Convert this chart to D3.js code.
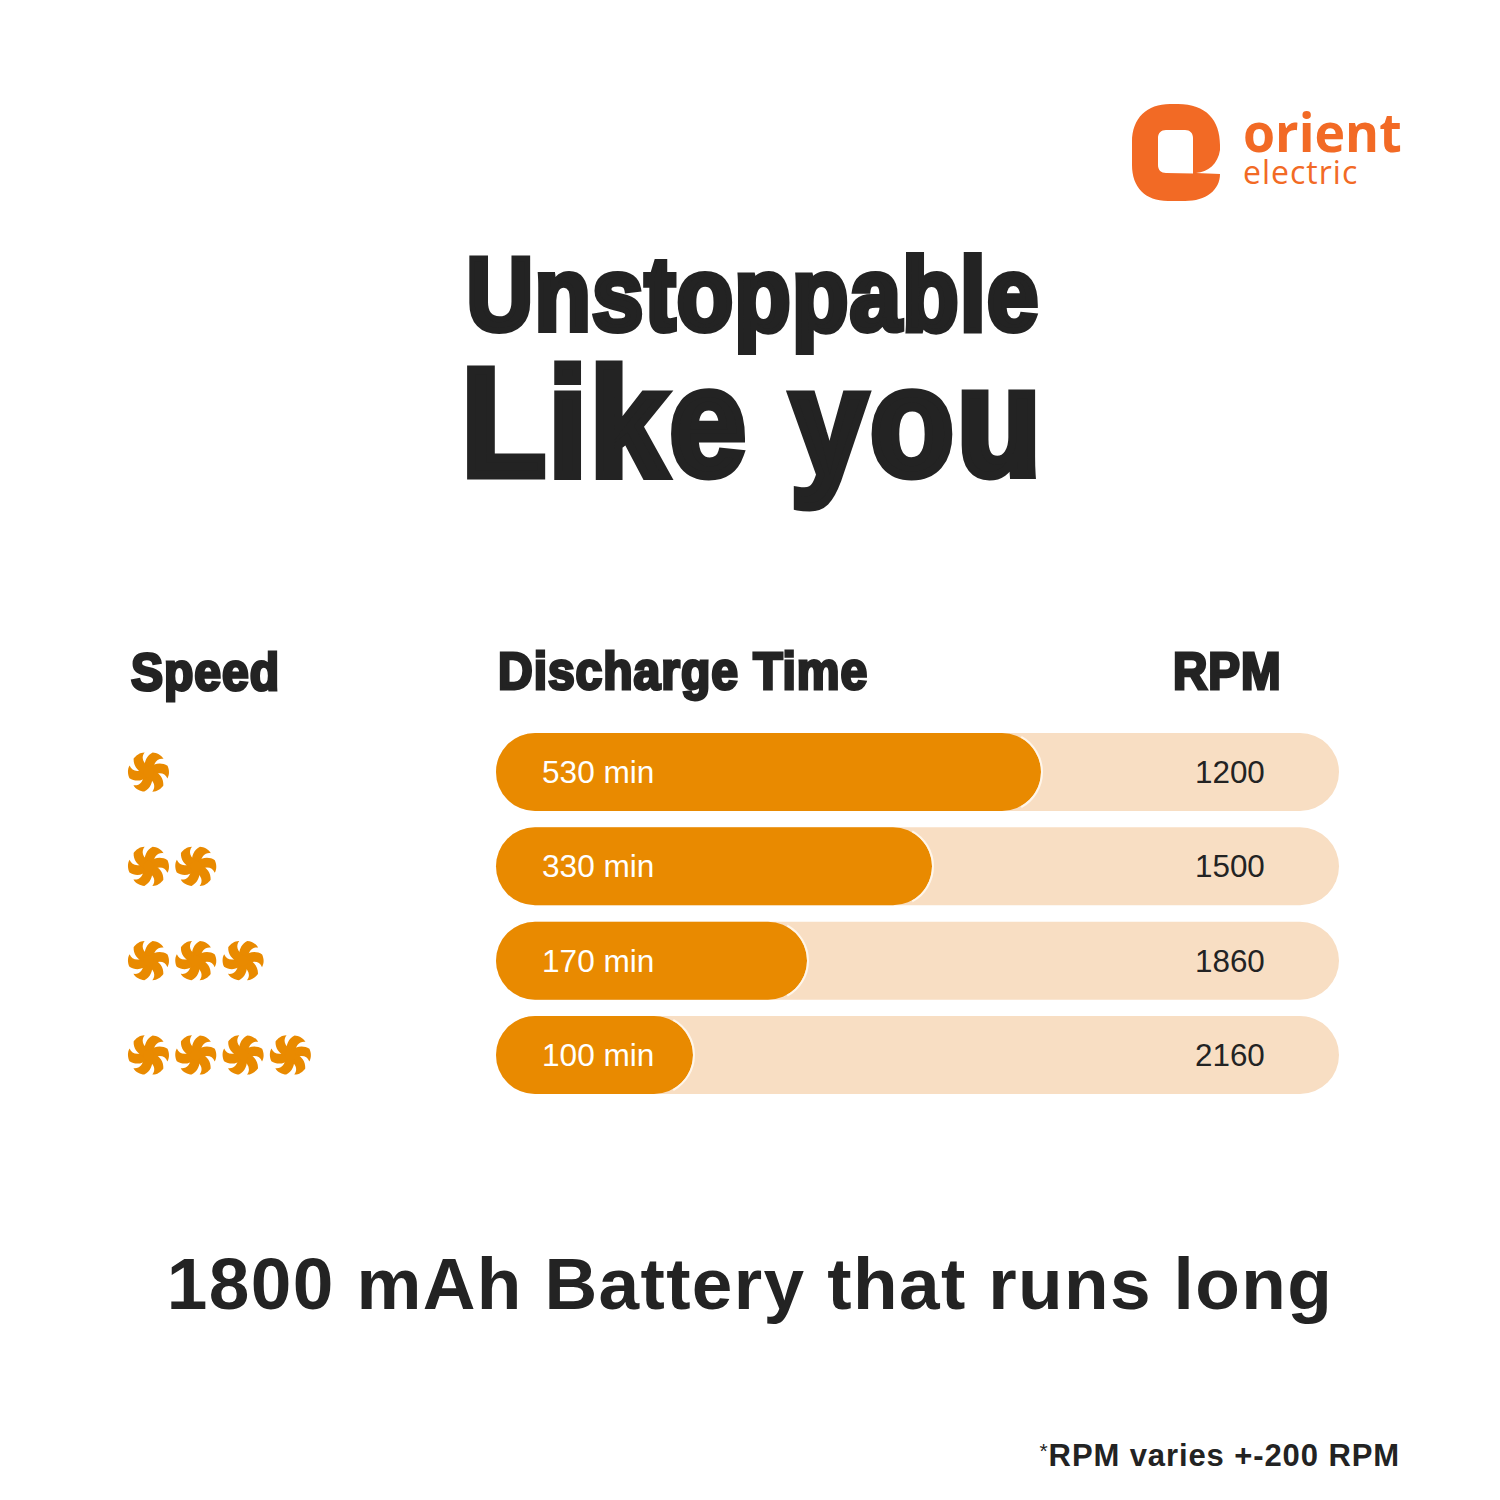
<!DOCTYPE html>
<html>
<head>
<meta charset="utf-8">
<script src="https://cdn.jsdelivr.net/npm/d3@7/dist/d3.min.js"></script>
<style>
html,body{margin:0;padding:0;background:#fff}
svg{display:block}
text{font-family:"Liberation Sans",sans-serif}
</style>
</head>
<body>
<div id="chart"></div>
<script>
// Fan speed table: one row per speed setting
const speedLevels = [1, 2, 3, 4];
const dischargeMinutes = [530, 330, 170, 100];
const rpmValues = [1200, 1500, 1860, 2160];
const columnHeads = ["Speed", "Discharge Time", "RPM"];
const titleLines = ["Unstoppable", "Like you"];
const tagline = "1800 mAh Battery that runs long";
const footnote = "RPM varies +-200 RPM";
// Bar lengths follow an uneven, non-proportional ruler
const minuteStops = [100, 170, 330, 530];
const lengthStops = [197, 311, 436, 545];

const ORANGE = "#E98A00", TRACK = "#F8DEC3", INK = "#232323", BRAND = "#F26A25";

const svg = d3.select("#chart").append("svg")
  .attr("width", 1500).attr("height", 1500).attr("viewBox", "0 0 1500 1500");
svg.append("rect").attr("width", 1500).attr("height", 1500).attr("fill", "#fff");

const rowScale = d3.scaleBand().domain(speedLevels).range([733, 1094]).paddingInner(0.173).paddingOuter(0);
const lengthScale = d3.scaleLinear().domain(minuteStops).range(lengthStops);
const barLeft = 496, trackWidth = 843, h = rowScale.bandwidth();
const rowMid = lv => rowScale(lv) + h / 2;

// Squeezed heavy headline text: a horizontal scale plus an outline for extra weight
function heavyText(x, y, size, sx, weight, str, anchor, spacing) {
  return svg.append("text")
    .attr("transform", `translate(${x},${y}) scale(${sx},1)`)
    .attr("text-anchor", anchor || "start")
    .attr("font-size", size).attr("font-weight", 700)
    .attr("letter-spacing", spacing || 0)
    .attr("fill", INK).attr("stroke", INK).attr("stroke-width", weight)
    .attr("stroke-linejoin", "miter")
    .text(str);
}

heavyText(753, 330, 103, 0.895, 6, titleLines[0], "middle", 1.5);
heavyText(753, 475, 153, 0.892, 9, titleLines[1], "middle", 4);

heavyText(131, 690, 52, 0.925, 3, columnHeads[0], "start", 1);
heavyText(498, 689, 52, 0.925, 3, columnHeads[1], "start", 1);
heavyText(1173, 689, 52, 0.915, 3, columnHeads[2], "start", 1);

// Table rows
const rows = svg.append("g").selectAll("g").data(speedLevels).join("g");

rows.append("rect")
  .attr("x", barLeft).attr("y", d => rowScale(d))
  .attr("width", trackWidth).attr("height", h)
  .attr("rx", h / 2).attr("fill", TRACK);

rows.append("rect")
  .attr("x", barLeft).attr("y", d => rowScale(d))
  .attr("width", (d, i) => lengthScale(dischargeMinutes[i])).attr("height", h)
  .attr("rx", h / 2).attr("fill", ORANGE);

// Thin light rim along the rounded end of each bar
const rimArc = d3.arc().innerRadius(h / 2).outerRadius(h / 2 + 2)
  .startAngle(Math.PI * 0.16).endAngle(Math.PI * 0.84);
rows.append("path")
  .attr("transform", (d, i) =>
    `translate(${barLeft + lengthScale(dischargeMinutes[i]) - h / 2},${rowMid(d)})`)
  .attr("d", rimArc())
  .attr("fill", "#FFF6EA");

rows.append("text")
  .attr("x", 542).attr("y", d => rowMid(d) + 11)
  .attr("font-size", 31.6).attr("fill", "#fff")
  .text((d, i) => dischargeMinutes[i] + " min");

rows.append("text")
  .attr("x", 1195).attr("y", d => rowMid(d) + 11)
  .attr("font-size", 31.4).attr("fill", INK)
  .text((d, i) => rpmValues[i]);

// Fan glyph: six swept blades around a hub
const bladeAngles = d3.range(0, 360, 60);
function addFan(sel, cx, cy) {
  const g = sel.append("g").attr("transform", `translate(${cx},${cy})`);
  g.selectAll("path").data(bladeAngles).join("path")
    .attr("transform", a => `rotate(${a + 12})`)
    .attr("d", "M-4,-2 C-7,-9 -5,-16 0,-20 C4,-20.5 9,-19.5 12,-16 C6,-15.5 3,-11 4,-2 Z")
    .attr("fill", ORANGE);
  g.append("circle").attr("r", 5.5).attr("fill", ORANGE);
}
const fanStep = 47.3;
speedLevels.forEach(lv => {
  const fans = svg.append("g");
  d3.range(lv).forEach(k => addFan(fans, 148.5 + k * fanStep, rowMid(lv)));
});

// Closing lines
svg.append("text").attr("x", 750).attr("y", 1309).attr("text-anchor", "middle")
  .attr("font-size", 73).attr("font-weight", 700).attr("fill", INK)
  .attr("letter-spacing", 1.38).text(tagline);

const note = svg.append("text").attr("x", 1400).attr("y", 1466).attr("text-anchor", "end")
  .attr("font-size", 31).attr("font-weight", 700).attr("fill", INK)
  .attr("letter-spacing", 0.9);
note.append("tspan").attr("font-size", 21).attr("font-weight", 400).attr("dy", -8).text("*");
note.append("tspan").attr("dy", 8).text(footnote);

// Brand mark: rounded square ring with a wedge cut on the right
const brand = svg.append("g");
brand.append("path")
  .attr("fill", BRAND).attr("fill-rule", "evenodd")
  .attr("d", "M1178,104 C1206,104 1220,120 1220,145 L1220,150 C1218,164 1208,172 1196,173 L1220,174 C1220,190 1206,201 1185,201 L1168,201 C1145,201 1132,187 1132,165 L1132,142 C1132,118 1147,104 1170,104 Z M1166,130 C1161,130 1158,133 1158,138 L1158,165 C1158,170 1161,173 1166,173 L1193,173.5 L1193,138 C1193,133 1190,130 1185,130 Z");
brand.append("text")
  .attr("transform", "translate(1243,152) scale(0.96,1)")
  .attr("font-size", 54).attr("font-weight", 700)
  .attr("fill", BRAND).attr("style", "font-family:'Open Sans',sans-serif").text("orient");
brand.append("text").attr("x", 1243).attr("y", 184)
  .attr("font-size", 32).attr("letter-spacing", 1)
  .attr("fill", BRAND)
  .attr("style", "font-family:'Open Sans',sans-serif").text("electric");
</script>
</body>
</html>
